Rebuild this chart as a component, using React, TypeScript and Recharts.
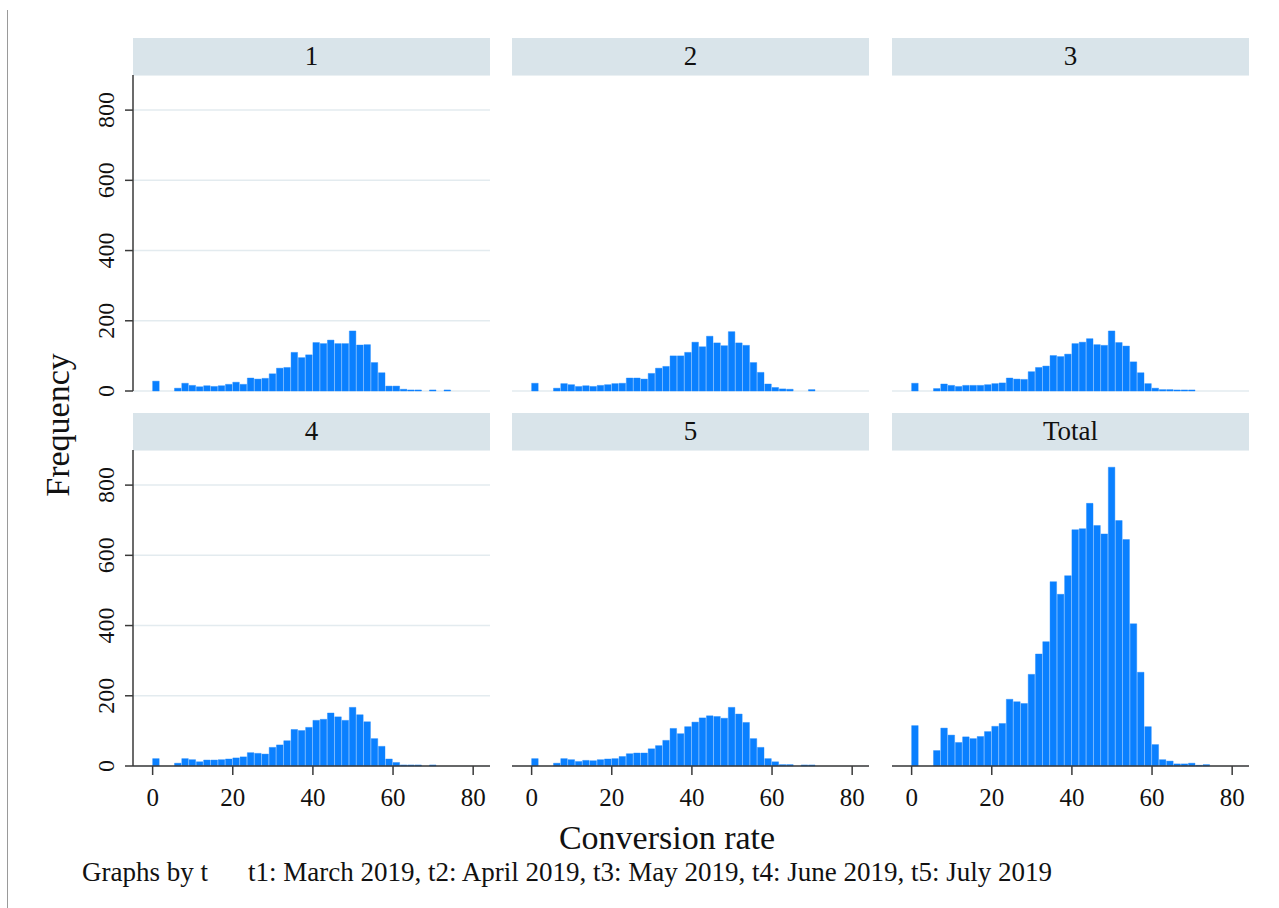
import { BarChart, Bar, XAxis, YAxis, CartesianGrid } from "recharts";

// histogram bins: index k covers [k*binWidth, (k+1)*binWidth]
const binWidth = 80 / 44;
const bins = [
  0, 1, 2, 3, 4, 5, 6, 7, 8, 9, 10, 11, 12, 13, 14, 15, 16, 17, 18, 19, 20,
  21, 22, 23, 24, 25, 26, 27, 28, 29, 30, 31, 32, 33, 34, 35, 36, 37, 38, 39, 40,
];

const t1 = [
  28, 0, 0, 8, 22, 16, 12, 15, 13, 15, 19, 25, 19, 37, 34, 36, 49, 65, 67, 110, 95,
  103, 138, 135, 145, 135, 135, 171, 131, 132, 81, 52, 14, 14, 5, 3, 3, 0, 3, 0, 3,
];
const t2 = [
  22, 0, 0, 8, 21, 18, 13, 15, 13, 16, 18, 21, 22, 37, 37, 34, 50, 65, 70, 100, 100,
  110, 139, 126, 156, 137, 129, 169, 137, 130, 81, 53, 20, 10, 6, 5, 0, 0, 4, 0, 0,
];
const t3 = [
  22, 0, 0, 7, 20, 16, 13, 16, 16, 16, 18, 21, 23, 37, 34, 33, 55, 67, 71, 101, 98,
  105, 135, 139, 149, 132, 130, 171, 138, 128, 83, 52, 21, 8, 4, 4, 3, 3, 3, 0, 0,
];
const t4 = [
  21, 0, 0, 8, 21, 18, 12, 17, 17, 18, 20, 23, 26, 38, 36, 34, 53, 60, 72, 104, 101,
  110, 130, 133, 151, 140, 130, 167, 146, 126, 78, 56, 20, 10, 3, 3, 3, 0, 3, 0, 0,
];
const t5 = [
  21, 0, 0, 8, 21, 18, 13, 16, 15, 18, 20, 21, 27, 35, 37, 37, 49, 58, 73, 107, 92,
  112, 125, 137, 143, 141, 136, 167, 148, 124, 78, 53, 21, 12, 4, 4, 0, 3, 3, 0, 0,
];
const total = [
  115, 0, 0, 44, 108, 88, 67, 83, 78, 84, 98, 113, 121, 190, 183, 178, 261, 319, 354, 525, 489,
  542, 673, 676, 748, 685, 661, 851, 699, 645, 405, 267, 112, 61, 18, 14, 6, 6, 8, 2, 4,
];

const panelTitles = ["1", "2", "3", "4", "5", "Total"];
const panelValues = [t1, t2, t3, t4, t5, total];
const xTicks = [0, 20, 40, 60, 80];
const yTicks = [0, 200, 400, 600, 800];

const serif = "'Liberation Serif', 'DejaVu Serif', serif";
const barBlue = "#0a80ff";
const stripColor = "#d9e4ea";
const gridColor = "#e3ebef";
const axisColor = "#3a3a3a";

const colLeft = [133, 512, 892];
const rowTop = [75, 450];
const plotW = 357;
const plotH = 316;
const yAxisW = 60;

function YTick(props: any) {
  const { x, y, payload } = props;
  return (
    <text
      x={x}
      y={y}
      transform={`rotate(-90 ${x} ${y})`}
      textAnchor="middle"
      fontFamily={serif}
      fontSize={24}
      fill="#111"
    >
      {payload.value}
    </text>
  );
}

function XTick(props: any) {
  const { x, y, payload } = props;
  return (
    <text x={x} y={y + 31} textAnchor="middle" fontFamily={serif} fontSize={25} fill="#111">
      {payload.value}
    </text>
  );
}

function Panel({ idx }: { idx: number }) {
  const col = idx % 3;
  const row = Math.floor(idx / 3);
  const data = bins.map((k, i) => ({ x: (k + 0.5) * binWidth, freq: panelValues[idx][i] }));
  const showY = col === 0;
  const showX = row === 1;
  const h = showX ? plotH + 60 : plotH + 14;
  return (
    <>
      <div
        style={{
          position: "absolute",
          left: colLeft[col],
          top: rowTop[row] - 37,
          width: plotW,
          height: 37,
          background: stripColor,
          fontFamily: serif,
          fontSize: 27,
          color: "#111",
          textAlign: "center",
          lineHeight: "37px",
        }}
      >
        {panelTitles[idx]}
      </div>
      <div style={{ position: "absolute", left: colLeft[col] - yAxisW, top: rowTop[row] }}>
        <BarChart
          width={yAxisW + plotW}
          height={h}
          data={data}
          margin={{ top: 0, right: 0, bottom: showX ? 0 : 14, left: 0 }}
          barCategoryGap={0}
        >
          <CartesianGrid horizontal vertical={false} stroke={gridColor} strokeWidth={1.5} />
          <XAxis
            dataKey="x"
            type="number"
            domain={[-4.9, 84.2]}
            ticks={xTicks}
            interval={0}
            allowDataOverflow
            hide={!showX}
            height={60}
            tickSize={9}
            tickMargin={0}
            tick={<XTick />}
            stroke={axisColor}
            axisLine={{ stroke: axisColor, strokeWidth: 1.5 }}
            tickLine={{ stroke: axisColor, strokeWidth: 1.5 }}
          />
          <YAxis
            type="number"
            domain={[0, 900]}
            ticks={yTicks}
            interval={0}
            width={yAxisW}
            tickSize={8}
            tickMargin={11}
            tick={showY ? <YTick /> : false}
            axisLine={showY ? { stroke: axisColor, strokeWidth: 1.5 } : false}
            tickLine={showY ? { stroke: axisColor, strokeWidth: 1.5 } : false}
          />
          <Bar
            dataKey="freq"
            fill={barBlue}
            stroke="#1a87fd"
            strokeWidth={0.4}
            barSize={binWidth * (plotW / 89.1) + 0.4}
            isAnimationActive={false}
          />
        </BarChart>
      </div>
    </>
  );
}

export default function App() {
  return (
    <div
      style={{
        position: "absolute",
        left: 0,
        top: 0,
        width: 1279,
        height: 908,
        background: "#fff",
        overflow: "hidden",
      }}
    >
      <div style={{ position: "absolute", left: 7, top: 10, width: 1, height: 898, background: "#9a9a9a" }} />
      {panelTitles.map((_, i) => (
        <Panel key={i} idx={i} />
      ))}
      <svg width={1279} height={908} style={{ position: "absolute", left: 0, top: 0, pointerEvents: "none" }}>
        <text
          x={69}
          y={425}
          transform="rotate(-90 69 425)"
          textAnchor="middle"
          fontFamily={serif}
          fontSize={34}
          fill="#111"
        >
          Frequency
        </text>
        <text x={667} y={849} textAnchor="middle" fontFamily={serif} fontSize={34} fill="#111">
          Conversion rate
        </text>
        <text x={82} y={881} fontFamily={serif} fontSize={27} fill="#111">
          Graphs by t
        </text>
        <text x={248} y={881} fontFamily={serif} fontSize={27} fill="#111">
          t1: March 2019, t2: April 2019, t3: May 2019, t4: June 2019, t5: July 2019
        </text>
      </svg>
    </div>
  );
}
